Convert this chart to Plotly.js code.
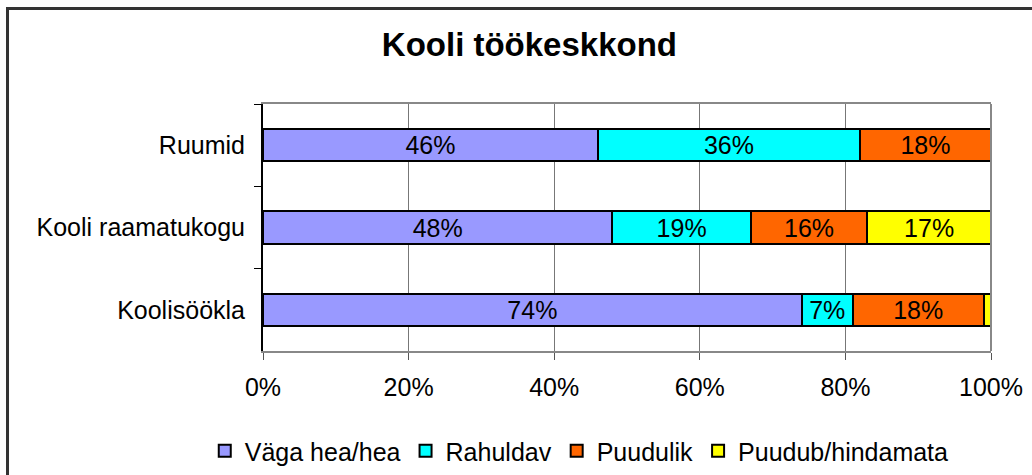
<!DOCTYPE html>
<html>
<head>
<meta charset="utf-8">
<script src="https://cdn.plot.ly/plotly-3.0.1.min.js"></script>
<style>
  html, body { margin: 0; padding: 0; background: #fff; }
  #wrap { position: relative; width: 1032px; height: 475px; overflow: hidden; }
  #chart { width: 1032px; height: 475px; }
  #frame { position: absolute; left: 6px; top: 7px; width: 1100px; height: 600px;
           border-left: 3px solid #333; border-top: 3px solid #333; pointer-events: none; }
</style>
</head>
<body>
<div id="wrap">
  <div id="chart"></div>
  <div id="frame"></div>
</div>
<script>
const categories = ['Ruumid', 'Kooli raamatukogu', 'Koolisöökla'];
const seriesNames = ['Väga hea/hea', 'Rahuldav', 'Puudulik', 'Puudub/hindamata'];
const vagaHea = [46, 48, 74];
const rahuldav = [36, 19, 7];
const puudulik = [18, 16, 18];
const puudub = [0, 17, 1];
const colors = ['#9999FF', '#00FFFF', '#FF6600', '#FFFF00'];
const xTicks = [0, 20, 40, 60, 80, 100];
const xTickLabels = ['0%', '20%', '40%', '60%', '80%', '100%'];

const FONT = 'Liberation Sans, Arial, sans-serif';
const allSeries = [vagaHea, rahuldav, puudulik, puudub];
const traces = allSeries.map((vals, i) => ({
  type: 'bar',
  orientation: 'h',
  name: seriesNames[i],
  y: categories,
  x: vals,
  text: vals.map(v => v >= 5 ? v + '%' : ''),
  textposition: 'inside',
  insidetextanchor: 'middle',
  constraintext: 'none',
  textfont: { family: FONT, size: 25, color: '#000' },
  marker: { color: colors[i], line: { color: '#000', width: 2 } },
  hoverinfo: 'none'
}));

const layout = {
  width: 1032, height: 475,
  margin: { l: 263, r: 41, t: 104, b: 124, autoexpand: false },
  paper_bgcolor: '#fff', plot_bgcolor: '#fff',
  barmode: 'stack',
  bargap: 0.61,
  font: { family: FONT, size: 25, color: '#000' },
  title: { text: '<b>Kooli töökeskkond</b>', x: 0.513, xanchor: 'center', y: 0.907, yanchor: 'middle',
           font: { family: FONT, size: 33, color: '#000' } },
  xaxis: {
    range: [0, 100], tickvals: xTicks, ticktext: xTickLabels,
    showgrid: true, gridcolor: '#777', gridwidth: 1,
    zeroline: false,
    showline: true, mirror: true, linecolor: '#888', linewidth: 2,
    ticks: 'outside', ticklen: 7, tickcolor: '#555', tickwidth: 1,
    tickfont: { size: 25 }, automargin: false,
    ticklabelstandoff: 6
  },
  yaxis: {
    type: 'category', autorange: 'reversed',
    showgrid: false, zeroline: false,
    showline: true, linecolor: '#000', linewidth: 2,
    ticks: 'outside', ticklen: 7, tickcolor: '#000', tickwidth: 1,
    tickson: 'boundaries',
    tickfont: { size: 25 },
    ticklabelstandoff: 11, automargin: false
  },
  shapes: [{ type: 'line', xref: 'paper', yref: 'paper', x0: 1, x1: 1, y0: 0, y1: 1,
             line: { color: '#888', width: 2 } }],
  legend: {
    orientation: 'h',
    x: -0.08, xanchor: 'left', y: -0.405, yanchor: 'middle',
    font: { size: 25 }, traceorder: 'normal', itemwidth: 30,
    itemclick: false
  },
  showlegend: true
};

Plotly.newPlot('chart', traces, layout, { displayModeBar: false, staticPlot: true });
</script>
</body>
</html>
